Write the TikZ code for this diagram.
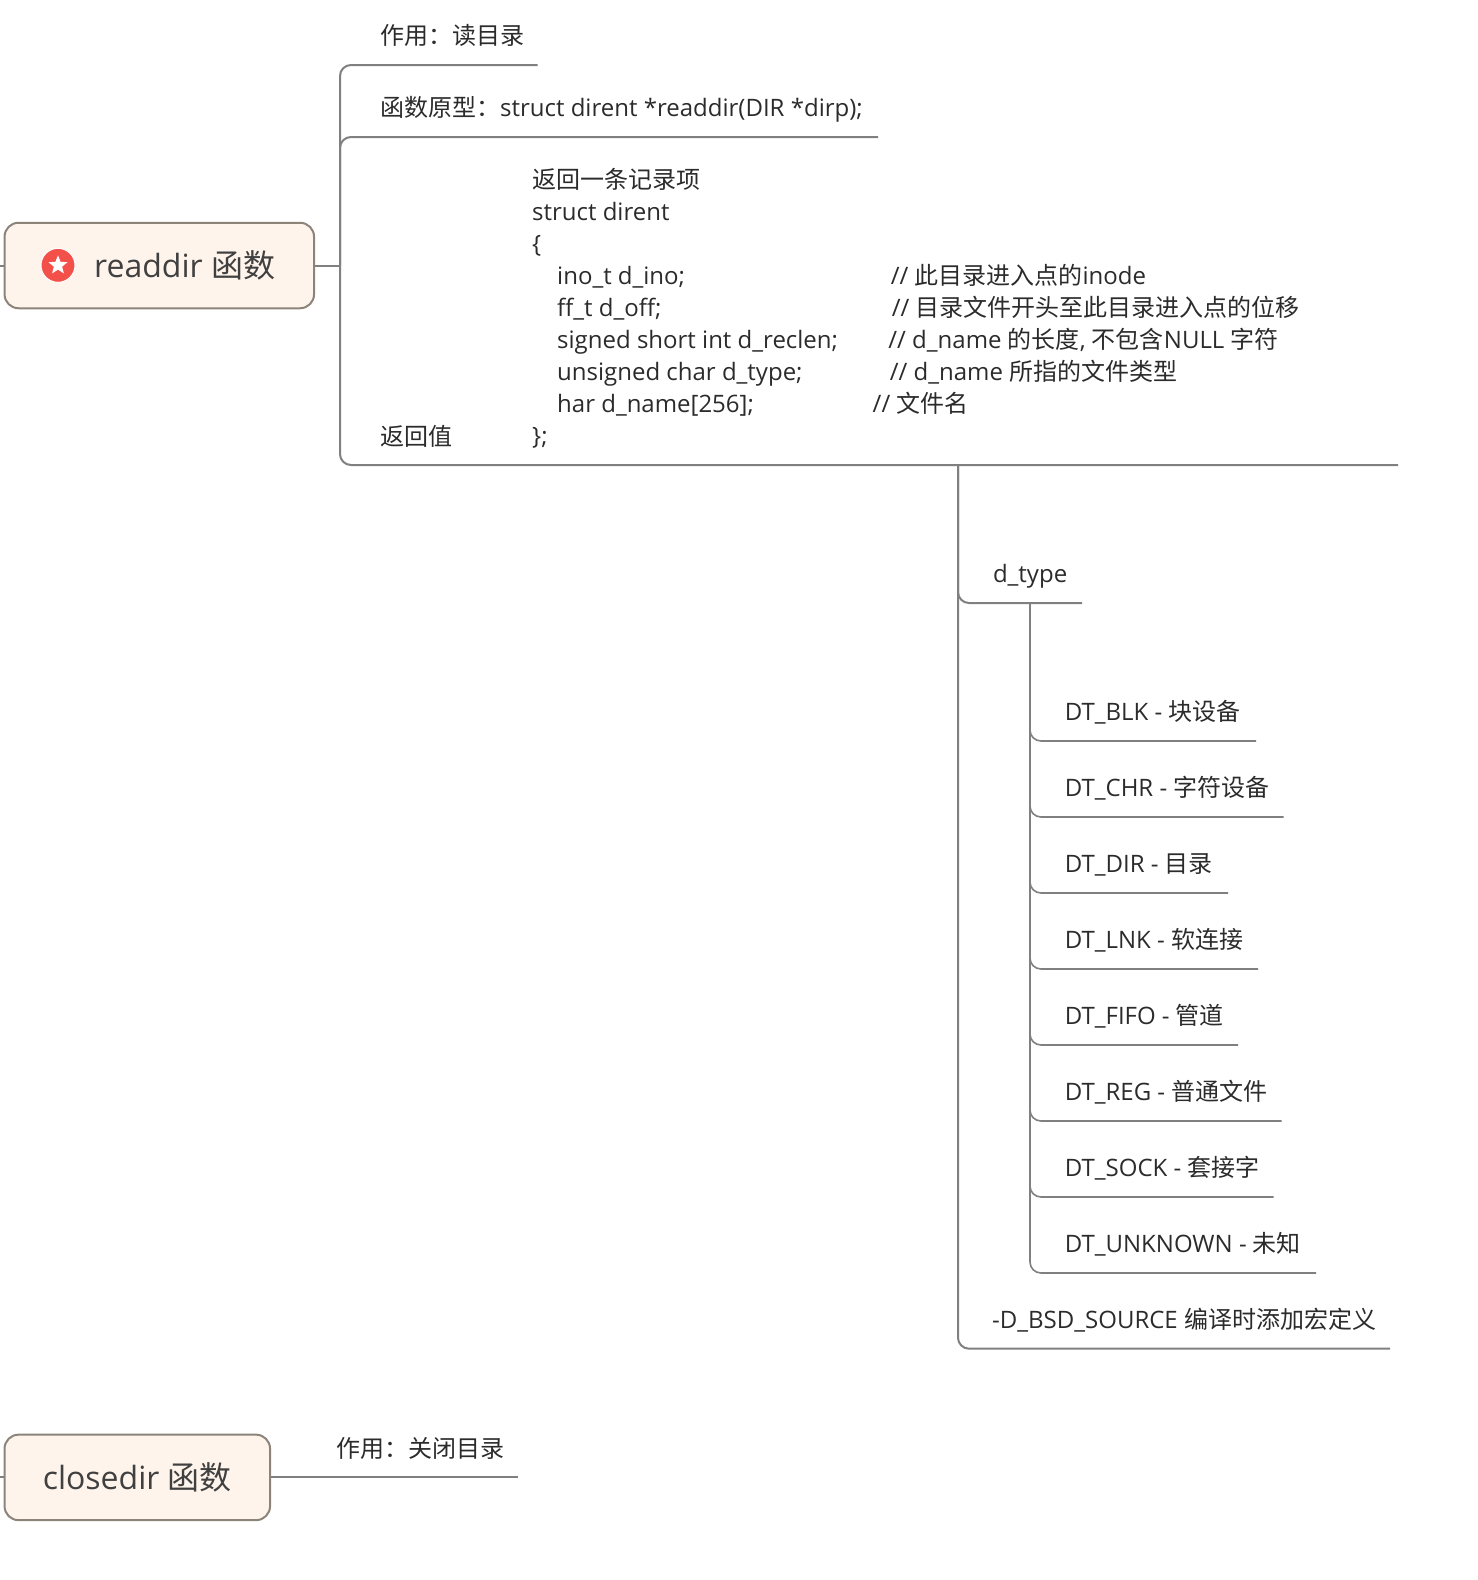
\documentclass[tikz,border=0pt]{standalone}
\usepackage{fontspec}
\setmainfont{Open Sans}
\newfontfamily\cjk{Noto Sans CJK SC}
\newcommand{\zh}[1]{{\cjk #1}}
\usetikzlibrary{shapes.geometric}
\definecolor{linecol}{HTML}{808080}
\definecolor{boxline}{HTML}{8C8479}
\definecolor{boxfill}{HTML}{FEF4EC}
\definecolor{textcol}{HTML}{2B2B2B}
\definecolor{rootcol}{HTML}{404040}
\definecolor{starcol}{HTML}{F4504A}

\begin{document}
\begin{tikzpicture}[
    x=1pt, y=-1pt,
    branch/.style={draw=linecol, line width=2pt, rounded corners=11pt},
    leaf/.style={branch, line width=1.6pt},
    topicbox/.style={draw=boxline, line width=2pt, fill=boxfill, rounded corners=14pt,
      minimum height=85.5pt, inner sep=0pt, text=rootcol, font=\fontsize{32}{36}\selectfont},
    item/.style={anchor=base west, inner sep=0pt, text=textcol, font=\fontsize{24}{32}\selectfont},
  ]

  \useasboundingbox (0,0) rectangle (1478,1580);

  % Main topics
  \node[topicbox, minimum width=309.5pt] (readdir) at (159.3,265.5)
    {\hspace{50.6pt}\raisebox{2.5pt}{readdir \zh{函数}}};
  \node[topicbox, minimum width=265.5pt] (closedir) at (137.3,1477.4)
    {\raisebox{2.5pt}{closedir \zh{函数}}};

  % Star icon
  \node[circle, fill=starcol, draw=white, line width=1pt, minimum size=34pt, inner sep=0pt] (icon)
    at (58,265.3) {};
  \node[star, star points=5, star point ratio=2.3, fill=white, minimum size=20pt, inner sep=0pt] (staricon)
    at (icon) {};

  % Branches of readdir
  \node[item] (usage) at (380,44.8) {\zh{作用：读目录}};
  \node[item] (proto) at (380,116.3) {\zh{函数原型：}struct dirent *readdir(DIR *dirp);};
  \node[item] (retval) at (380,445) {\zh{返回值}};

  % Struct listing
  \node[item] (line1) at (532,188.8) {\zh{返回一条记录项}};
  \node[item] (line2) at (532,220) {struct dirent};
  \node[item] (line3) at (532,252) {\{};
  \node[item] (line4) at (557,284.5) {ino\_t d\_ino;};
  \node[item] (line5) at (557,316.6) {ff\_t d\_off;};
  \node[item] (line6) at (557,348) {signed short int d\_reclen;};
  \node[item] (line7) at (557,380) {unsigned char d\_type;};
  \node[item] (line8) at (557,412.5) {har d\_name[256];};
  \node[item] (line9) at (532,444.7) {\};};

  % Comments of the listing
  \node[item] (note4) at (890.6,284.5) {// \zh{此目录进入点的}inode};
  \node[item] (note5) at (891.6,316.6) {// \zh{目录文件开头至此目录进入点的位移}};
  \node[item] (note6) at (888.2,348) {// d\_name \zh{的长度}, \zh{不包含}NULL \zh{字符}};
  \node[item] (note7) at (889.6,380) {// d\_name \zh{所指的文件类型}};
  \node[item] (note8) at (872.5,412.5) {// \zh{文件名}};

  % d_type and its values
  \node[item] (dtype) at (992.8,582.8) {d\_type};
  \node[item] (dtblk) at (1064.6,720.8) {DT\_BLK - \zh{块设备}};
  \node[item] (dtchr) at (1064.6,796.8) {DT\_CHR - \zh{字符设备}};
  \node[item] (dtdir) at (1064.6,872.2) {DT\_DIR - \zh{目录}};
  \node[item] (dtlnk) at (1064.6,948.5) {DT\_LNK - \zh{软连接}};
  \node[item] (dtfifo) at (1064.6,1024.2) {DT\_FIFO - \zh{管道}};
  \node[item] (dtreg) at (1064.6,1100.6) {DT\_REG - \zh{普通文件}};
  \node[item] (dtsock) at (1064.6,1176) {DT\_SOCK - \zh{套接字}};
  \node[item] (dtunk) at (1064.6,1252.7) {DT\_UNKNOWN - \zh{未知}};
  \node[item] (bsd) at (992,1328.8) {-D\_BSD\_SOURCE \zh{编译时添加宏定义}};

  % Branch of closedir
  \node[item] (closeuse) at (335.8,1457) {\zh{作用：关闭目录}};

  % Free ends of the connectors
  \coordinate (rootjoin) at (340,265.5);
  \coordinate (usageend) at (537.5,65);
  \coordinate (protoend) at (878,137);
  \coordinate (retend) at (1398,465);
  \coordinate (retjoin) at (958,465);
  \coordinate (dtypeend) at (1082,603);
  \coordinate (dtypejoin) at (1030,603);
  \coordinate (bsdend) at (1390,1348.7);
  \coordinate (blkend) at (1256,741);
  \coordinate (chrend) at (1283.5,817);
  \coordinate (dirend) at (1228,893);
  \coordinate (lnkend) at (1258,969);
  \coordinate (fifoend) at (1238,1045);
  \coordinate (regend) at (1281.5,1121);
  \coordinate (sockend) at (1273.5,1197);
  \coordinate (unkend) at (1316,1273);
  \coordinate (closeend) at (518,1477.4);
  \coordinate (leftone) at (0,265.5);
  \coordinate (lefttwo) at (0,1477.4);

  % Connectors of the main topics
  \draw[branch] (leftone) -- (readdir.west);
  \draw[branch] (lefttwo) -- (closedir.west);
  \draw[branch] (readdir.east) -- (rootjoin);
  \draw[branch] (closedir.east) -- (closeend);

  % Connectors of readdir
  \draw[branch] (rootjoin) |- (usageend);
  \draw[branch] (rootjoin) |- (protoend);
  \draw[branch] (rootjoin) |- (retend);

  % Connectors of the return value
  \draw[branch] (retjoin) |- (dtypeend);
  \draw[branch] (retjoin) |- (bsdend);

  % Connectors of d_type
  \draw[leaf] (dtypejoin) |- (blkend);
  \draw[leaf] (dtypejoin) |- (chrend);
  \draw[leaf] (dtypejoin) |- (dirend);
  \draw[leaf] (dtypejoin) |- (lnkend);
  \draw[leaf] (dtypejoin) |- (fifoend);
  \draw[leaf] (dtypejoin) |- (regend);
  \draw[leaf] (dtypejoin) |- (sockend);
  \draw[leaf] (dtypejoin) |- (unkend);

\end{tikzpicture}
\end{document}
